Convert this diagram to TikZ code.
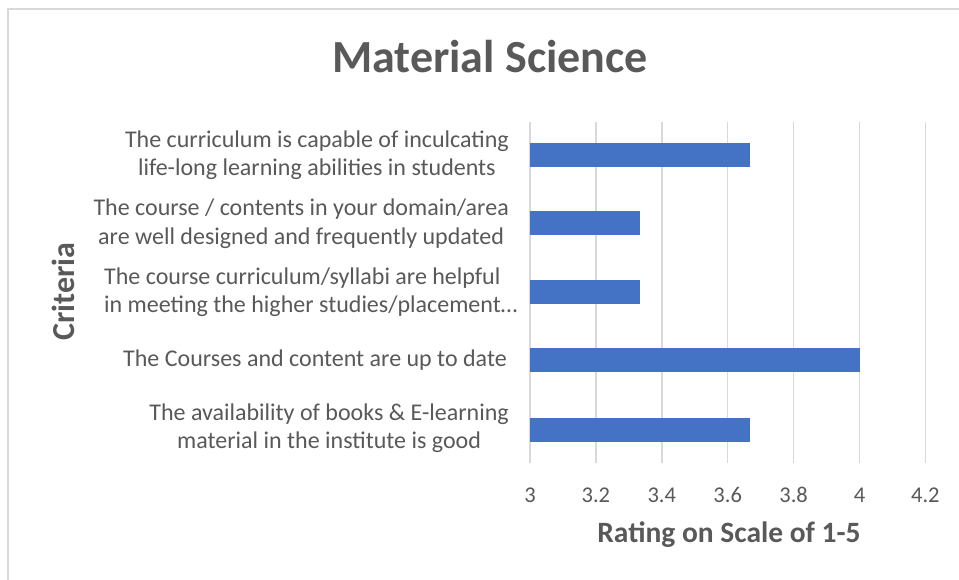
\documentclass[tikz,border=0pt]{standalone}
\usepackage{fontspec}
\setmainfont{Carlito}
\definecolor{txt}{HTML}{595959}
\definecolor{barblue}{HTML}{4472C4}
\definecolor{grid}{HTML}{D9D9D9}
\begin{document}
\begin{tikzpicture}[x=1pt,y=-1pt,
  catlabel/.style={text=txt,font=\fontsize{24}{28.5}\selectfont,inner sep=0pt,align=center},
  ticklabel/.style={text=txt,font=\fontsize{22.5}{27}\selectfont,inner sep=0pt},
  bar/.style={fill=barblue,draw=none},
  gridline/.style={draw=grid,line width=1.5pt}]
\useasboundingbox (0,0) rectangle (959,580);
\fill[white] (0,0) rectangle (959,580);
\draw[grid,line width=2pt] (7.5,580) -- (7.5,9) -- (959,9);
% title
\node[text=txt,font=\fontsize{46}{52}\bfseries\selectfont,inner sep=0pt] (title) at (490,57) {Material Science};
% grid
\foreach \i/\lab in {0/3,1/3.2,2/3.4,3/3.6,4/3.8,5/4,6/4.2}{
  \draw[gridline] ({530+65.9*\i},122) -- ({530+65.9*\i},463);
  \node[ticklabel] (t\i) at ({530+65.9*\i},495) {\lab};
}
% bars
\def\xv#1{530+329.5*(#1-3)}
\fill[bar] (530,143) rectangle ({\xv{3.6667}},167);
\fill[bar] (530,211) rectangle ({\xv{3.3333}},235);
\fill[bar] (530,280) rectangle ({\xv{3.3333}},304);
\fill[bar] (530,348) rectangle ({\xv{4}},372);
\fill[bar] (530,418) rectangle ({\xv{3.6667}},442);
% category labels
\node[catlabel,anchor=east] (c1) at (509,155) {The curriculum is capable of inculcating\\life-long learning abilities in students};
\node[catlabel,anchor=east] (c2) at (509,223.5) {The course / contents in your domain/area\\are well designed and frequently updated};
\node[catlabel,anchor=west,align=left] (c3) at (104,292) {The course curriculum/syllabi are helpful\\in meeting the higher studies/placement\dots};
\node[catlabel,anchor=east] (c4) at (507,360.5) {The Courses and content are up to date};
\node[catlabel,anchor=east] (c5) at (509,428) {The availability of books \& E-learning\\material in the institute is good};
% axis titles
\node[text=txt,font=\fontsize{29.5}{34}\bfseries\selectfont,inner sep=0pt] (xtitle) at (729,535) {Rating on Scale of 1-5};
\node[text=txt,font=\fontsize{32}{38}\bfseries\selectfont,inner sep=0pt,rotate=90] (ytitle) at (63,291.5) {Criteria};
\end{tikzpicture}
\end{document}
